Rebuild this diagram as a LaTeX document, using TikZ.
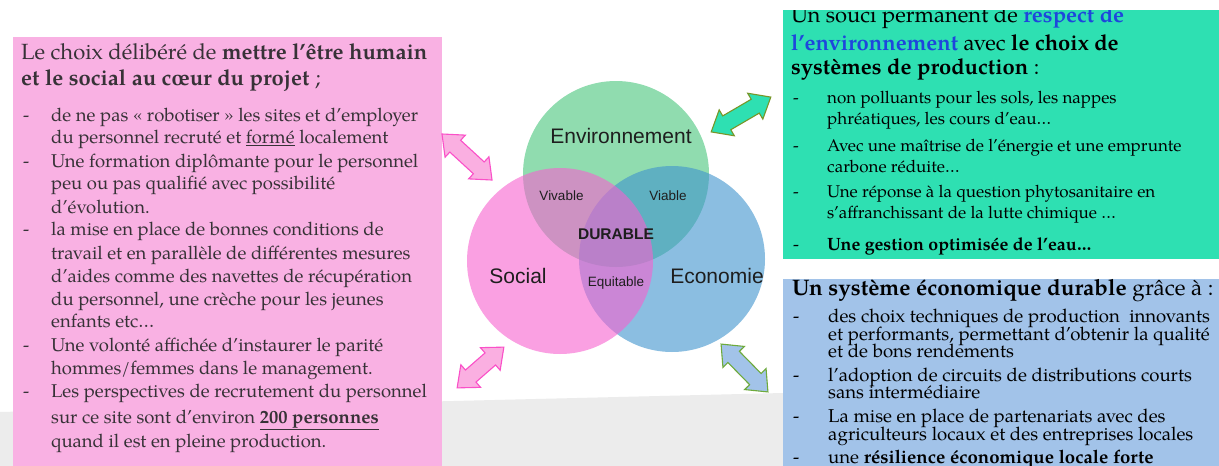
\documentclass[tikz,border=0pt]{standalone}
\usepackage{fontspec}
\setmainfont{texgyrepagella}[Extension=.otf, UprightFont=*-regular, BoldFont=*-bold, ItalicFont=*-italic, BoldItalicFont=*-bolditalic]
\newfontfamily\vennfont{Liberation Sans}
\definecolor{pinkbox}{RGB}{249,177,227}
\definecolor{greenbox}{RGB}{46,224,178}
\definecolor{bluebox}{RGB}{162,195,233}
\definecolor{envc}{RGB}{70,198,123}
\definecolor{socc}{RGB}{247,97,207}
\definecolor{ecoc}{RGB}{63,147,205}
\definecolor{pinktext}{RGB}{55,50,55}
\definecolor{envblue}{RGB}{30,70,220}
\definecolor{bggray}{RGB}{236,236,236}
\definecolor{vtext}{RGB}{30,30,30}
\definecolor{parrowfill}{RGB}{250,175,225}
\definecolor{parrowline}{RGB}{250,80,200}
\definecolor{garrowline}{RGB}{120,150,40}
\definecolor{barrowline}{RGB}{110,170,60}
\newcommand\dblarrowpath[1]{(-#1/2,0) -- (-#1/2+18,15) -- (-#1/2+18,8) -- (#1/2-18,8) -- (#1/2-18,15) -- (#1/2,0) -- (#1/2-18,-15) -- (#1/2-18,-8) -- (-#1/2+18,-8) -- (-#1/2+18,-15) -- cycle}
\begin{document}
\begin{tikzpicture}[x=1pt,y=-1pt,
  ptitle/.style={anchor=base west, inner sep=0, text=pinktext, font=\fontsize{22}{26}\selectfont},
  ptxt/.style={anchor=base west, inner sep=0, text=pinktext, font=\fontsize{18.5}{22}\selectfont},
  gtitle/.style={anchor=base west, inner sep=0, text=black, font=\fontsize{22}{26}\selectfont},
  gtxt/.style={anchor=base west, inner sep=0, text=black, font=\fontsize{17}{21}\selectfont},
  btitle/.style={anchor=base west, inner sep=0, text=black, font=\fontsize{22.4}{26}\selectfont},
  btxt/.style={anchor=base west, inner sep=0, text=black, font=\fontsize{18.6}{21}\selectfont},
  vbig/.style={inner sep=0, text=vtext, font=\vennfont\fontsize{21}{24}\selectfont},
  vsmall/.style={inner sep=0, text=vtext, font=\vennfont\fontsize{13.5}{16}\selectfont},
  parrow/.style={fill=parrowfill, draw=parrowline, line width=1.1pt, line join=miter},
  garrow/.style={fill=greenbox, draw=garrowline, line width=1.1pt, line join=miter},
  barrow/.style={fill=bluebox, draw=barrowline, line width=1.1pt, line join=miter}
]
\path[use as bounding box, fill=white] (0,0) rectangle (1219,466);
% background grey band
\fill[bggray] (0,412) -- (783,393) -- (783,466) -- (0,466) -- cycle;

% boxes
\fill[pinkbox] (13,37) rectangle (442,466);
\fill[greenbox] (783,10) rectangle (1219,259);
\fill[bluebox] (783,279) rectangle (1219,466);

% Venn circles
\coordinate (cenv) at (616,174);
\coordinate (csoc) at (560,261);
\coordinate (ceco) at (672,259);
\fill[envc, fill opacity=0.6] (cenv) circle[radius=93pt];
\fill[ecoc, fill opacity=0.6] (ceco) circle[radius=93pt];
\fill[socc, fill opacity=0.6] (csoc) circle[radius=93pt];

\node[vbig] (lenv) at (621,135.5) {Environnement};
\node[vbig] (lsoc) at (518,276) {Social};
\node[vbig] (leco) at (717,276) {Economie};
\node[vsmall] (lviv) at (561.5,196) {Vivable};
\node[vsmall] (lvia) at (668,196) {Viable};
\node[vsmall] (lequ) at (616,283) {Equitable};
\node[inner sep=0, text=vtext, font=\vennfont\bfseries\fontsize{15.5}{18}\selectfont] (ldur) at (616,234) {DURABLE};

% arrows
\begin{scope}[shift={(467,157)},rotate=-42.6]
\draw[parrow] \dblarrowpath{68};
\end{scope}
\begin{scope}[shift={(480.5,367.5)},rotate=41.1]
\draw[parrow] \dblarrowpath{62};
\end{scope}
\begin{scope}[shift={(741,114.5)},rotate=30.3]
\draw[garrow] \dblarrowpath{69};
\end{scope}
\begin{scope}[shift={(744.5,368)},rotate=-45.6]
\draw[barrow] \dblarrowpath{67};
\end{scope}

% pink text
\node[ptitle] (pt1) at (21,59) {Le choix délibéré de \textbf{mettre l’être humain}};
\node[ptitle] (pt2) at (21,85) {\textbf{et le social au cœur du projet} ;};
\node[ptxt] (pa1) at (23,121) {\makebox[28pt][l]{-}de ne pas « robotiser » les sites et d’employer};
\node[ptxt] (pa2) at (51,143) {du personnel recruté et \underline{formé} localement};
\node[ptxt] (pb1) at (23,167) {\makebox[28pt][l]{-}Une formation diplômante pour le personnel};
\node[ptxt] (pb2) at (51,189) {peu ou pas qualifié avec possibilité};
\node[ptxt] (pb3) at (51,213) {d’évolution.};
\node[ptxt] (pc1) at (23,235) {\makebox[28pt][l]{-}la mise en place de bonnes conditions de};
\node[ptxt] (pc2) at (51,259) {travail et en parallèle de différentes mesures};
\node[ptxt] (pc3) at (51,282) {d’aides comme des navettes de récupération};
\node[ptxt] (pc4) at (51,305) {du personnel, une crèche pour les jeunes};
\node[ptxt] (pc5) at (51,327) {enfants etc…};
\node[ptxt] (pd1) at (23,351) {\makebox[28pt][l]{-}Une volonté affichée d’instaurer le parité};
\node[ptxt] (pd2) at (51,374) {hommes/femmes dans le management.};
\node[ptxt] (pe1) at (23,397) {\makebox[28pt][l]{-}Les perspectives de recrutement du personnel};
\node[ptxt] (pe2) at (51,423) {sur ce site sont d’environ \underline{\textbf{200 personnes}}};
\node[ptxt] (pe3) at (51,447) {quand il est en pleine production.};

% green text
\begin{scope}
\clip (783,10) rectangle (1219,259);
\node[gtitle] (gt1) at (791,22) {Un souci permanent de \textcolor{envblue}{\textbf{respect de}}};
\end{scope}
\node[gtitle] (gt2) at (791,50) {\textcolor{envblue}{\textbf{l’environnement}} avec \textbf{le choix de}};
\node[gtitle] (gt3) at (791,74) {\textbf{systèmes de production} :};
\node[gtxt] (ga1) at (793,103) {\makebox[34pt][l]{-}non polluants pour les sols, les nappes};
\node[gtxt] (ga2) at (827,124) {phréatiques, les cours d’eau…};
\node[gtxt] (gb1) at (793,151) {\makebox[34pt][l]{-}Avec une maîtrise de l’énergie et une emprunte};
\node[gtxt] (gb2) at (827,172) {carbone réduite…};
\node[gtxt] (gc1) at (793,197) {\makebox[34pt][l]{-}Une réponse à la question phytosanitaire en};
\node[gtxt] (gc2) at (827,218) {s’affranchissant de la lutte chimique …};
\node[gtxt, font=\fontsize{17.8}{21}\selectfont] (gd1) at (793,250) {\makebox[34pt][l]{-}\textbf{Une gestion optimisée de l’eau…}};

% blue text
\node[btitle] (bt1) at (792,295) {\textbf{Un système économique durable} grâce à :};
\node[btxt] (ba1) at (793,322) {\makebox[35pt][l]{-}des choix techniques de production\ \ innovants};
\node[btxt] (ba2) at (828,340) {et performants, permettant d’obtenir la qualité};
\node[btxt] (ba3) at (828,357) {et de bons rendements};
\node[btxt] (bb1) at (793,381) {\makebox[35pt][l]{-}l’adoption de circuits de distributions courts};
\node[btxt] (bb2) at (828,398) {sans intermédiaire};
\node[btxt] (bc1) at (793,422) {\makebox[35pt][l]{-}La mise en place de partenariats avec des};
\node[btxt] (bc2) at (828,440) {agriculteurs locaux et des entreprises locales};
\node[btxt] (bd1) at (793,463) {\makebox[35pt][l]{-}une \textbf{résilience économique locale forte}};
\end{tikzpicture}
\end{document}
